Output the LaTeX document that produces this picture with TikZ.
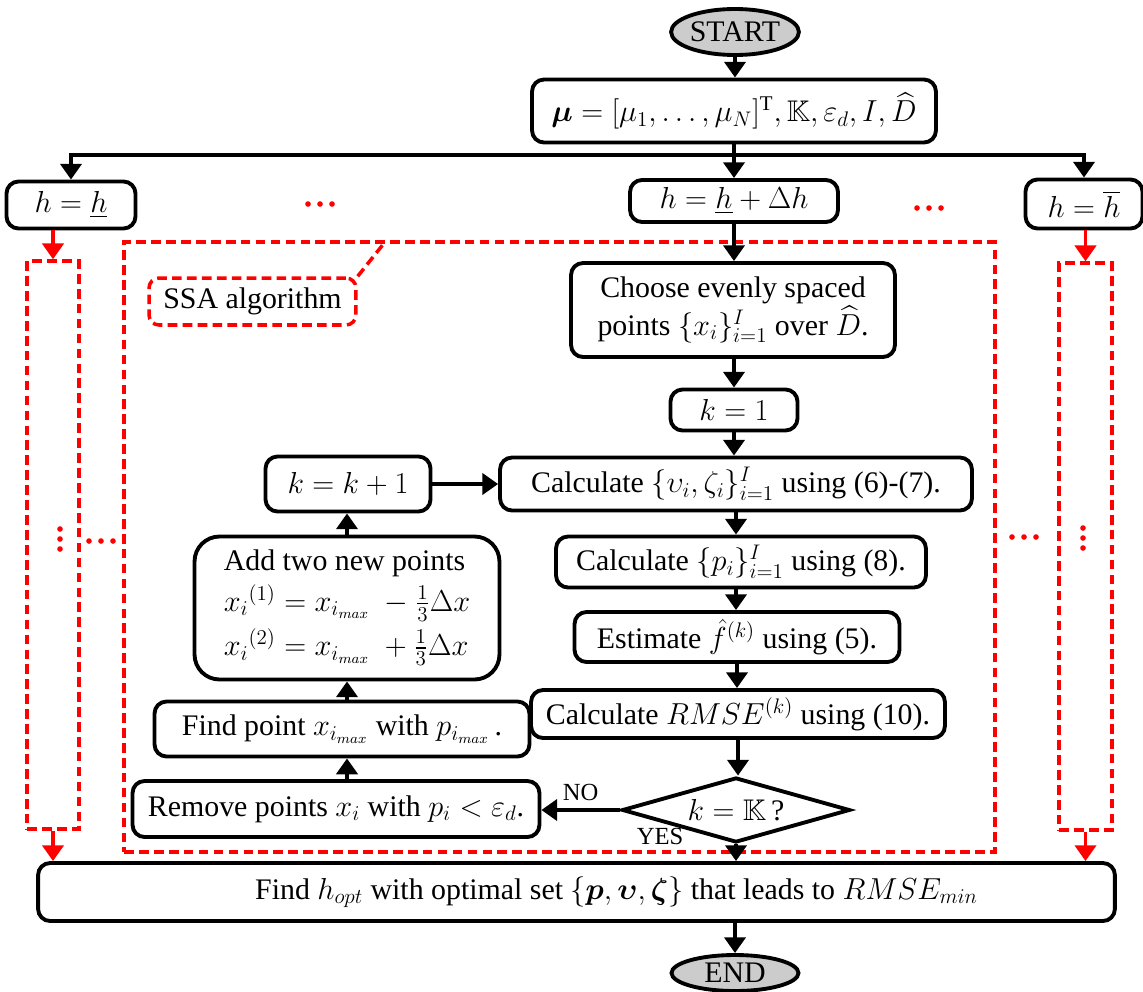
\documentclass[tikz,border=0pt]{standalone}
\usepackage{amsmath,amssymb,bm}
\usepackage{fontspec}
\setmainfont{Liberation Serif}
\usepackage{tikz}
\usetikzlibrary{arrows.meta,shapes,calc}
\definecolor{termgray}{rgb}{0.8,0.8,0.8}
\tikzset{
  proc/.style={draw,line width=2.2pt,rounded corners=0.24cm,align=center,inner sep=2pt},
  term/.style={ellipse,draw,line width=2.2pt,fill=termgray,inner sep=0pt},
  decide/.style={diamond,draw,line width=2.2pt,inner sep=0pt,aspect=3.5},
  arr/.style={-{Triangle[width=12pt,length=9pt]},line width=2.2pt},
  redarr/.style={arr,red},
  reddash/.style={draw=red,line width=2pt,dash pattern=on 5.5pt off 3pt},
  lbl/.style={font=\fontsize{14}{16}\selectfont,inner sep=1pt}
}

\begin{document}
\begin{tikzpicture}[x=0.02cm,y=-0.02cm,font=\fontsize{17}{20}\selectfont]
    \useasboundingbox (0,0) rectangle (1143,991);
    \node[term,minimum width=2.54cm,minimum height=0.92cm] (start) at (735,32) {START};
    \node[proc,minimum width=8.08cm,minimum height=1.26cm] (param) at (734,111)
      {$\bm{\mu}=[\mu_1,\ldots,\mu_N]^{\mathrm{T}},\mathbb{K},\varepsilon_d,I,\widehat{D}$};
    \node[proc,minimum width=2.58cm,minimum height=0.94cm] (hlow) at (71,205) {$h=\underline{h}$};
    \node[proc,minimum width=4.16cm,minimum height=0.84cm] (hmid) at (734,201) {$h=\underline{h}+\Delta h$};
    \node[proc,minimum width=2.34cm,minimum height=0.98cm] (hup) at (1084,204) {$h=\overline{h}$};

    % SSA part
    \node[reddash,minimum width=17.42cm,minimum height=12.2cm] (ssa) at (559.5,547) {};
    \node[reddash,rounded corners=0.2cm,minimum width=4.14cm,minimum height=0.94cm] (ssalbl) at (252.5,301.5) {SSA algorithm};
    \coordinate (ssatop) at (385,242);
    \draw[reddash] (ssalbl.north east) -- (ssatop);
    \node[reddash,minimum width=1.04cm,minimum height=11.36cm] (lside) at (53,545) {};
    \node[reddash,minimum width=1.06cm,minimum height=11.34cm] (rside) at (1085.5,546.5) {};

    \node[proc,minimum width=6.48cm,minimum height=1.88cm] (choose) at (733,310)
      {Choose evenly spaced\\points $\{x_i\}_{i=1}^{I}$ over $\widehat{D}$.};
    \node[proc,minimum width=2.54cm,minimum height=0.82cm] (kone) at (734,410) {$k=1$};
    \node[proc,minimum width=9.44cm,minimum height=1.06cm] (calcv) at (736,484)
      {Calculate $\{\upsilon_i,\zeta_i\}_{i=1}^{I}$ using (6)-(7).};
    \node[proc,minimum width=3.3cm,minimum height=1.1cm] (kinc) at (348,484) {$k=k+1$};
    \node[proc,minimum width=7.4cm,minimum height=1.02cm] (calcp) at (741,562)
      {Calculate $\{p_i\}_{i=1}^{I}$ using (8).};
    \node[proc,minimum width=6.5cm,minimum height=1.0cm] (est) at (737,637)
      {Estimate $\hat{f}^{(k)}$ using (5).};
    \node[proc,minimum width=8.28cm,minimum height=0.96cm] (rmse) at (738,714)
      {Calculate $RMSE^{(k)}$ using (10).};
    \node[decide,minimum width=4.56cm,minimum height=1.3cm] (check) at (736,810) {$k=\mathbb{K}$\,?};
    \node[proc,minimum width=8.14cm,minimum height=1.12cm] (remove) at (336,809)
      {Remove points $x_i$ with $p_i<\varepsilon_d$.};
    \node[proc,minimum width=7.5cm,minimum height=1.1cm] (find) at (342,729)
      {Find point $x_{i_{max}}$ with $p_{i_{max}}$\,.};
    \node[proc,rounded corners=0.5cm,align=left,minimum width=6.1cm,minimum height=2.86cm] (add) at (347,608)
      {Add two new points\\[3pt]
       ${x_i}^{(1)}=x_{i_{max}}\;-\frac{1}{3}\Delta x$\\[3pt]
       ${x_i}^{(2)}=x_{i_{max}}\;+\frac{1}{3}\Delta x$};
    \node[proc,minimum width=21.54cm,minimum height=1.16cm] (final) at (576.5,892)
      {\hspace*{1.6cm}Find $h_{opt}$ with optimal set $\{\bm{p},\bm{\upsilon},\bm{\zeta}\}$ that leads to $RMSE_{min}$};
    \node[term,minimum width=2.54cm,minimum height=0.72cm] (stop) at (735,973) {END};
    \node[lbl] (yes) at (660,836) {YES};

    \foreach \x/\y in {308/204,320/204,332/204,917/208,929/208,941/208,
                       60/529,60/539,60/549,89/541,101/541,113/541,
                       1012/537,1024/537,1036/537,1083/528,1083/538,1083/548}
      \fill[red] (\x,\y) circle (1.6pt);

    \coordinate (split) at (734,155);
    \draw[arr] (start.south) -- (start.south |- param.north);
    \draw[line width=2.2pt] (param.south) -- (split);
    \draw[arr] (split) -| (hlow.north);
    \draw[arr] (split) -- (hmid.north);
    \draw[arr] (split) -| (hup.north);
    \draw[arr] (hmid.south) -- (hmid.south |- choose.north);
    \draw[arr] (kone.north |- choose.south) -- (kone.north);
    \draw[arr] (kone.south) -- (kone.south |- calcv.north);
    \draw[arr] (calcv.south) -- (calcv.south |- calcp.north);
    \draw[arr] (calcv.south |- calcp.south) -- (calcv.south |- est.north);
    \draw[arr] (est.south) -- (est.south |- rmse.north);
    \draw[arr] (rmse.south) -- (rmse.south |- check.north);
    \draw[arr] (check.west) -- (check.west -| remove.east) node[lbl,midway,above=3pt] (no) {NO};
    \draw[arr] (check.south) -- (check.south |- final.north);
    \draw[arr] (remove.north -| add.south) -- (find.south -| add.south);
    \draw[arr] (find.north -| add.south) -- (add.south);
    \draw[arr] (add.north) -- (add.north |- kinc.south);
    \draw[arr] (kinc.east) -- (calcv.west);
    \draw[arr] (stop.north |- final.south) -- (stop.north);
    \draw[redarr] (lside.north |- hlow.south) -- (lside.north);
    \draw[redarr] (lside.south) -- (lside.south |- final.north);
    \draw[redarr] (rside.north |- hup.south) -- (rside.north);
    \draw[redarr] (rside.south) -- (rside.south |- final.north);
\end{tikzpicture}
\end{document}
